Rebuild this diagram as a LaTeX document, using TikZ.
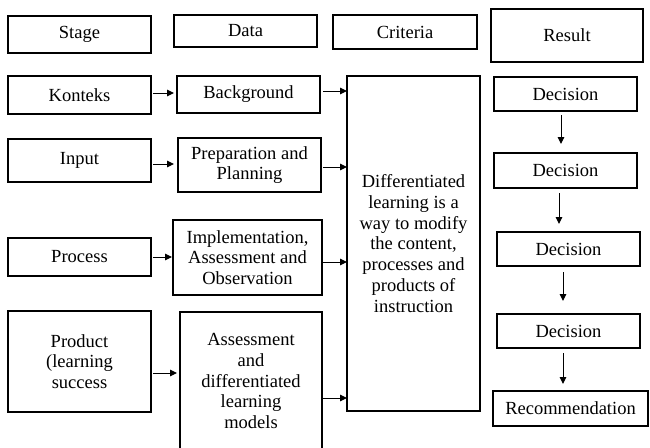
\documentclass[tikz,border=0pt]{standalone}
\usepackage{fontspec}
\setmainfont{Liberation Serif}
\usetikzlibrary{arrows.meta}
\begin{document}
\begin{tikzpicture}[x=1pt,y=-1pt,
  box/.style={draw, line width=1.8pt, inner sep=0pt, outer sep=0pt, align=center,
    font=\fontsize{18.5}{20.7}\selectfont},
  arr/.style={line width=1pt, -{Triangle[length=7pt,width=6.5pt]}}]
\useasboundingbox (0,0) rectangle (650,447);
% header row
\node[box, minimum width=143, minimum height=37] (stage) at (79.5,34.5) {Stage};
\node[box, minimum width=143, minimum height=32] (data) at (245.5,31) {Data};
\node[box, minimum width=144, minimum height=34] (crit) at (405,32) {Criteria};
\node[box, minimum width=152, minimum height=53] (res) at (567,35.5) {Result};
% stage column
\node[box, minimum width=143, minimum height=38] (kon) at (79.5,95) {Konteks};
\node[box, minimum width=143, minimum height=43] (inp) at (79.5,160.5) {Input};
\node[box, minimum width=143, minimum height=38] (pro) at (79.5,257) {Process};
\node[box, minimum width=143, minimum height=101] (prd) at (79.5,361.5) {Product\\(learning\\success};
% data column
\node[box, minimum width=143, minimum height=37] (bg) at (248.5,94.5) {Background};
\node[box, minimum width=143, minimum height=54] (prep) at (249.5,165) {Preparation and\\Planning};
\node[box, minimum width=149, minimum height=75] (impl) at (247.5,257.5) {Implementation,\\Assessment and\\Observation};
\node[box, minimum width=142, minimum height=138] (ass) at (251,381) {Assessment\\and\\differentiated\\learning\\models};
% criteria
\node[box, minimum width=133, minimum height=335] (big) at (413.5,243.5) {Differentiated\\learning is a\\way to modify\\the content,\\processes and\\products of\\instruction};
% result column
\node[box, minimum width=143, minimum height=34] (d1) at (565.5,94) {Decision};
\node[box, minimum width=143, minimum height=35] (d2) at (565.5,170.5) {Decision};
\node[box, minimum width=143, minimum height=34] (d3) at (568.5,249) {Decision};
\node[box, minimum width=143, minimum height=34] (d4) at (568.5,331) {Decision};
\node[box, minimum width=155, minimum height=35] (rec) at (570.5,408.5) {Recommendation};
% stage -> data
\draw[arr, shorten <=2pt, shorten >=3pt] ([yshift=2]kon.east) -- ([yshift=2]kon.east -| bg.west);
\draw[arr, shorten <=2pt, shorten >=4pt] ([yshift=-3.5]inp.east) -- ([yshift=-3.5]inp.east -| prep.west);
\draw[arr, shorten <=2pt, shorten >=1pt] (pro.east) -- (pro.east -| impl.west);
\draw[arr, shorten <=2pt, shorten >=3pt] ([yshift=-11.5]prd.east) -- ([yshift=-11.5]prd.east -| ass.west);
% data -> criteria
\draw[arr, shorten <=3pt] ([yshift=3.5]bg.east) -- ([yshift=3.5]bg.east -| big.west);
\draw[arr, shorten <=2pt] ([yshift=-2]prep.east) -- ([yshift=-2]prep.east -| big.west);
\draw[arr, shorten <=1pt] ([yshift=-4.5]impl.east) -- ([yshift=-4.5]impl.east -| big.west);
\draw[arr, shorten <=1pt] ([yshift=-17]ass.east) -- ([yshift=-17]ass.east -| big.west);
% result chain
\draw[arr, shorten <=4pt, shorten >=9pt] ([xshift=-4.5]d1.south) -- ([xshift=-4.5]d1.south |- d2.north);
\draw[arr, shorten <=5pt, shorten >=8pt] ([xshift=-6.5]d2.south) -- ([xshift=-6.5]d2.south |- d3.north);
\draw[arr, shorten <=6pt, shorten >=13pt] ([xshift=-5.5]d3.south) -- ([xshift=-5.5]d3.south |- d4.north);
\draw[arr, shorten <=5pt, shorten >=7pt] ([xshift=-5.5]d4.south) -- ([xshift=-5.5]d4.south |- rec.north);
\end{tikzpicture}
\end{document}
